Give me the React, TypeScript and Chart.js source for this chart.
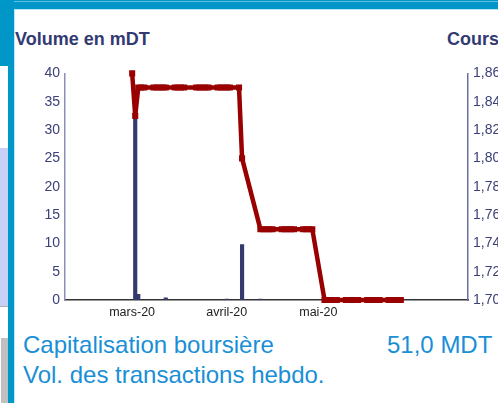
import React, { useEffect, useRef } from 'react';
import { Chart, registerables } from 'chart.js';

Chart.register(...registerables);

// Weekly/daily quotes (right axis, "Cours")
const priceDates = [
  '2020-03-02', '2020-03-03', '2020-03-04', '2020-03-05', '2020-03-06',
  '2020-03-09', '2020-03-10', '2020-03-11', '2020-03-12', '2020-03-13',
  '2020-03-16', '2020-03-17', '2020-03-18', '2020-03-19',
  '2020-03-23', '2020-03-24', '2020-03-25', '2020-03-26', '2020-03-27',
  '2020-03-30', '2020-03-31', '2020-04-01', '2020-04-02', '2020-04-03',
  '2020-04-06', '2020-04-07',
  '2020-04-13', '2020-04-14', '2020-04-15', '2020-04-16', '2020-04-17',
  '2020-04-20', '2020-04-21', '2020-04-22', '2020-04-23', '2020-04-24',
  '2020-04-27', '2020-04-28', '2020-04-29', '2020-04-30',
  '2020-05-04', '2020-05-05', '2020-05-06', '2020-05-07', '2020-05-08',
  '2020-05-11', '2020-05-12', '2020-05-13', '2020-05-14', '2020-05-15',
  '2020-05-18', '2020-05-19', '2020-05-20', '2020-05-21', '2020-05-22',
  '2020-05-25', '2020-05-26', '2020-05-27', '2020-05-28', '2020-05-29',
];
const priceValues = [
  1.86, 1.83, 1.85, 1.85, 1.85,
  1.85, 1.85, 1.85, 1.85, 1.85,
  1.85, 1.85, 1.85, 1.85,
  1.85, 1.85, 1.85, 1.85, 1.85,
  1.85, 1.85, 1.85, 1.85, 1.85,
  1.85, 1.80,
  1.75, 1.75, 1.75, 1.75, 1.75,
  1.75, 1.75, 1.75, 1.75, 1.75,
  1.75, 1.75, 1.75, 1.75,
  1.70, 1.70, 1.70, 1.70, 1.70,
  1.70, 1.70, 1.70, 1.70, 1.70,
  1.70, 1.70, 1.70, 1.70, 1.70,
  1.70, 1.70, 1.70, 1.70, 1.70,
];

// Volume in mDT (left axis)
const volDates = ['2020-03-03', '2020-03-04', '2020-03-13', '2020-04-02', '2020-04-07', '2020-04-13'];
const volValues = [32.5, 1.0, 0.4, 0.15, 9.8, 0.15];

// X axis
const monthTicks = ['2020-03-01', '2020-04-01', '2020-05-01'];
const monthLabels = ['mars-20', 'avril-20', 'mai-20'];
const xStart = '2020-02-09';
const xEnd = '2020-06-20';

const RED = '#990000';
const NAVY = '#343a6e';
const AXIS_TXT = '#3b4177';
const BLUE = '#0096c8';
const TXT_BLUE = '#1a8fd6';

const ORIGIN = Date.UTC(2020, 2, 1);
function day(s: string): number {
  const [y, m, d] = s.split('-').map(Number);
  return (Date.UTC(y, m - 1, d) - ORIGIN) / 86400000;
}

function ChartBox() {
  const ref = useRef<HTMLCanvasElement>(null);
  useEffect(() => {
    const chart = new Chart(ref.current!, {
      type: 'bar',
      data: {
        datasets: [
          {
            type: 'line',
            data: priceDates.map((d, i) => ({ x: day(d), y: priceValues[i] })),
            yAxisID: 'y1',
            borderColor: RED,
            backgroundColor: RED,
            borderWidth: 4.5,
            pointStyle: 'rect',
            pointRadius: 4.3,
            pointBorderWidth: 0,
            pointBackgroundColor: RED,
            tension: 0,
            clip: 12,
            order: 0,
          } as any,
          {
            type: 'bar',
            data: volDates.map((d, i) => ({ x: day(d), y: volValues[i] })),
            yAxisID: 'y',
            backgroundColor: NAVY,
            barThickness: 3.5,
            order: 1,
          } as any,
        ],
      },
      options: {
        responsive: false,
        animation: false,
        devicePixelRatio: 1,
        layout: { padding: { top: 12, left: 0, right: 0, bottom: 0 } },
        plugins: { legend: { display: false }, tooltip: { enabled: false } },
        scales: {
          x: {
            type: 'linear',
            min: day(xStart),
            max: day(xEnd),
            offset: false,
            grid: { display: false, drawTicks: false },
            border: { display: true, color: '#333333', width: 1.5 },
            ticks: {
              autoSkip: false,
              maxRotation: 0,
              padding: 5,
              labelOffset: 3,
              color: '#222222',
              font: { family: 'Liberation Sans, Arial', size: 12.5 },
              callback: (_v: any, i: number) => monthLabels[i],
            },
            afterBuildTicks: (s: any) => {
              s.ticks = monthTicks.map((m) => ({ value: day(m) }));
            },
            afterFit: (s: any) => {
              s.height = 25;
            },
          },
          y: {
            position: 'left',
            min: 0,
            max: 40,
            grid: { display: false, drawTicks: false },
            border: { display: true, color: '#8a8eb8', width: 1.5 },
            ticks: {
              stepSize: 5,
              padding: 5,
              color: AXIS_TXT,
              font: { family: 'Liberation Sans, Arial', size: 14 },
            },
            afterFit: (s: any) => {
              s.width = 65;
            },
          },
          y1: {
            position: 'right',
            min: 1.7,
            max: 1.86,
            grid: { display: false, drawTicks: false },
            border: { display: true, color: '#6a6f9c', width: 1.5 },
            ticks: {
              stepSize: 0.02,
              padding: 5,
              color: AXIS_TXT,
              font: { family: 'Liberation Sans, Arial', size: 14 },
              callback: (v: any) => Number(v).toFixed(2).replace('.', ','),
            },
            afterFit: (s: any) => {
              s.width = 30;
            },
          },
        },
      },
    });
    return () => chart.destroy();
  }, []);
  return <canvas ref={ref} width={498} height={265} style={{ display: 'block', width: 498, height: 265 }} />;
}

export default function App() {
  const abs = (s: React.CSSProperties): React.CSSProperties => ({ position: 'absolute', ...s });
  return (
    <div
      style={{
        position: 'fixed',
        left: 0,
        top: 0,
        width: 498,
        height: 403,
        overflow: 'hidden',
        background: '#ffffff',
        fontFamily: 'Liberation Sans, Arial, sans-serif',
      }}
    >
      {/* left side panels */}
      <div style={abs({ left: 0, top: 0, width: 8, height: 66, background: BLUE })} />
      <div style={abs({ left: 0, top: 148, width: 8, height: 158, background: '#c8d0f8' })} />
      <div style={abs({ left: 0, top: 306, width: 8, height: 1, background: '#b0b0b0' })} />
      <div style={abs({ left: 1, top: 338, width: 7, height: 65, background: '#c0c0c0' })} />
      {/* frame */}
      <div style={abs({ left: 0, top: 0, width: 498, height: 9, background: BLUE })} />
      <div style={abs({ left: 14, top: 1, width: 484, height: 1, background: '#5cc0e0' })} />
      <div style={abs({ left: 14, top: 9, width: 484, height: 1, background: '#b8e8f4' })} />
      <div style={abs({ left: 8, top: 0, width: 6, height: 403, background: BLUE })} />
      <div style={abs({ left: 14, top: 9, width: 1, height: 394, background: '#b8e8f4' })} />

      {/* titles */}
      <div style={abs({ left: 15, top: 30, fontSize: 18, lineHeight: '18px', fontWeight: 'bold', color: '#333a72', whiteSpace: 'nowrap' })}>
        Volume en mDT
      </div>
      <div style={abs({ left: 447, top: 30, fontSize: 18, lineHeight: '18px', fontWeight: 'bold', color: '#333a72', whiteSpace: 'nowrap' })}>
        Cours
      </div>

      {/* chart */}
      <div style={abs({ left: 0, top: 60, width: 498, height: 265 })}>
        <ChartBox />
      </div>

      {/* bottom text */}
      <div style={abs({ left: 23, top: 333, fontSize: 24, lineHeight: '24px', color: TXT_BLUE, whiteSpace: 'nowrap' })}>
        Capitalisation boursière
      </div>
      <div style={abs({ left: 387, top: 333, fontSize: 24, lineHeight: '24px', color: TXT_BLUE, whiteSpace: 'nowrap' })}>
        51,0 MDT
      </div>
      <div style={abs({ left: 23, top: 363, fontSize: 24, lineHeight: '24px', color: TXT_BLUE, whiteSpace: 'nowrap' })}>
        Vol. des transactions hebdo.
      </div>
    </div>
  );
}
